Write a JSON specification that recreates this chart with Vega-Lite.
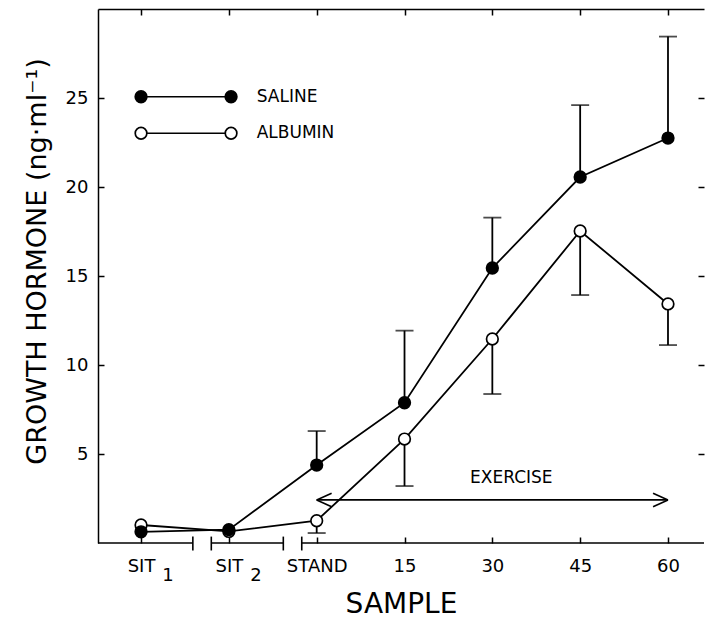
{
  "$schema": "https://vega.github.io/schema/vega-lite/v6.json",
  "width": 606,
  "height": 534,
  "autosize": {"type": "none"},
  "padding": {"left": 98, "top": 9, "right": 2, "bottom": 82},
  "background": "white",
  "config": {
    "view": {"stroke": null},
    "axis": {"grid": false, "labelFont": "DejaVu Sans", "titleFont": "DejaVu Sans", "labelColor": "black", "titleColor": "black", "tickColor": "black", "domainColor": "black", "tickWidth": 1.5, "domainWidth": 1.5, "titleFontWeight": "normal"},
    "text": {"font": "DejaVu Sans", "color": "black"}
  },
  "datasets": {
    "gh": [
      {"sample": "SIT1", "pos": 0, "series": "ALBUMIN", "gh": 1.01},
      {"sample": "SIT2", "pos": 1, "series": "ALBUMIN", "gh": 0.65},
      {"sample": "STAND", "pos": 2, "series": "ALBUMIN", "gh": 1.25, "err": 0.56},
      {"sample": "15", "pos": 3, "series": "ALBUMIN", "gh": 5.84, "err": 3.2},
      {"sample": "30", "pos": 4, "series": "ALBUMIN", "gh": 11.46, "err": 8.37},
      {"sample": "45", "pos": 5, "series": "ALBUMIN", "gh": 17.53, "err": 13.93},
      {"sample": "60", "pos": 6, "series": "ALBUMIN", "gh": 13.43, "err": 11.12},
      {"sample": "SIT1", "pos": 0, "series": "SALINE", "gh": 0.63},
      {"sample": "SIT2", "pos": 1, "series": "SALINE", "gh": 0.75},
      {"sample": "STAND", "pos": 2, "series": "SALINE", "gh": 4.38, "err": 6.29},
      {"sample": "15", "pos": 3, "series": "SALINE", "gh": 7.88, "err": 11.93},
      {"sample": "30", "pos": 4, "series": "SALINE", "gh": 15.45, "err": 18.28},
      {"sample": "45", "pos": 5, "series": "SALINE", "gh": 20.56, "err": 24.6},
      {"sample": "60", "pos": 6, "series": "SALINE", "gh": 22.75, "err": 28.45}
    ],
    "segments": [
      {"part": "axis", "x": -0.49, "y": 0, "x2": 0.59, "y2": 0},
      {"part": "axis", "x": 0.8, "y": 0, "x2": 1.62, "y2": 0},
      {"part": "axis", "x": 1.83, "y": 0, "x2": 6.41, "y2": 0},
      {"part": "break", "x": 0.59, "y": -0.42, "x2": 0.59, "y2": 0.36},
      {"part": "break", "x": 0.8, "y": -0.42, "x2": 0.8, "y2": 0.36},
      {"part": "break", "x": 1.62, "y": -0.42, "x2": 1.62, "y2": 0.36},
      {"part": "break", "x": 1.83, "y": -0.42, "x2": 1.83, "y2": 0.36},
      {"part": "arrow", "x": 2, "y": 2.42, "x2": 6, "y2": 2.42},
      {"part": "arrow", "x": 2, "y": 2.42, "x2": 2.17, "y2": 2.8},
      {"part": "arrow", "x": 2, "y": 2.42, "x2": 2.17, "y2": 2.04},
      {"part": "arrow", "x": 6, "y": 2.42, "x2": 5.83, "y2": 2.8},
      {"part": "arrow", "x": 6, "y": 2.42, "x2": 5.83, "y2": 2.04},
      {"part": "legend", "x": 0, "y": 25.07, "x2": 1.025, "y2": 25.07},
      {"part": "legend", "x": 0, "y": 23.02, "x2": 1.025, "y2": 23.02}
    ],
    "legendpts": [
      {"series": "ALBUMIN", "x": 0, "y": 23.02},
      {"series": "ALBUMIN", "x": 1.025, "y": 23.02},
      {"series": "SALINE", "x": 0, "y": 25.07},
      {"series": "SALINE", "x": 1.025, "y": 25.07}
    ],
    "notes": [
      {"x": 1.317, "y": 25.07, "text": "SALINE"},
      {"x": 1.317, "y": 23.02, "text": "ALBUMIN"},
      {"x": 3.746, "y": 3.65, "text": "EXERCISE"}
    ],
    "subs": [
      {"x": 0, "text": "1"},
      {"x": 1, "text": "2"}
    ]
  },
  "resolve": {"axis": {"x": "independent", "y": "independent"}},
  "layer": [
    {
      "data": {"name": "segments"},
      "mark": {"type": "rule", "color": "black", "strokeWidth": 1.6},
      "encoding": {
        "x": {"field": "x", "type": "quantitative", "scale": {"domain": [-0.49, 6.41], "nice": false, "zero": false},
          "axis": {"orient": "top", "values": [0, 1, 2, 3, 4, 5, 6], "labels": false, "tickSize": -6, "domain": true, "title": null}},
        "x2": {"field": "x2"},
        "y": {"field": "y", "type": "quantitative", "scale": {"domain": [0, 30], "nice": false, "zero": false},
          "axis": {"orient": "right", "values": [5, 10, 15, 20, 25], "labels": false, "tickSize": -6, "domain": false, "title": null}},
        "y2": {"field": "y2"}
      }
    },
    {
      "data": {"name": "gh"},
      "mark": {"type": "line", "color": "black", "strokeWidth": 1.8},
      "encoding": {
        "x": {"field": "pos", "type": "quantitative",
          "axis": {"orient": "bottom", "values": [0, 1, 2, 3, 4, 5, 6],
            "labelExpr": "['SIT','SIT','STAND','15','30','45','60'][datum.value]",
            "domain": false, "tickSize": -6, "labelPadding": 20, "labelFontSize": 18,
            "title": "SAMPLE", "titleFontSize": 28, "titlePadding": 15,
            "encode": {"labels": {"update": {"dx": {"signal": "datum.value < 1.5 ? 5 : 0"}}}}}},
        "y": {"field": "gh", "type": "quantitative",
          "axis": {"orient": "left", "values": [5, 10, 15, 20, 25], "tickSize": -6, "domain": true,
            "labelPadding": 16, "labelFontSize": 18,
            "title": "GROWTH HORMONE (ng·ml⁻¹)", "titleFontSize": 27, "titlePadding": 14, "titleY": 252}},
        "detail": {"field": "series"},
        "order": {"field": "pos"}
      }
    },
    {
      "data": {"name": "gh"},
      "transform": [{"filter": "isValid(datum.err)"}],
      "mark": {"type": "rule", "color": "black", "strokeWidth": 1.8},
      "encoding": {
        "x": {"field": "pos", "type": "quantitative", "axis": null},
        "y": {"field": "gh", "type": "quantitative", "axis": null},
        "y2": {"field": "err"}
      }
    },
    {
      "data": {"name": "gh"},
      "transform": [{"filter": "isValid(datum.err)"}],
      "mark": {"type": "tick", "orient": "horizontal", "color": "black", "size": 18, "thickness": 1.8},
      "encoding": {
        "x": {"field": "pos", "type": "quantitative", "axis": null},
        "y": {"field": "err", "type": "quantitative", "axis": null}
      }
    },
    {
      "data": {"name": "gh"},
      "mark": {"type": "point", "shape": "circle", "filled": true, "stroke": "black", "strokeWidth": 1.7, "size": 135, "opacity": 1},
      "encoding": {
        "x": {"field": "pos", "type": "quantitative", "axis": null},
        "y": {"field": "gh", "type": "quantitative", "axis": null},
        "fill": {"field": "series", "type": "nominal", "scale": {"domain": ["SALINE", "ALBUMIN"], "range": ["black", "white"]}, "legend": null}
      }
    },
    {
      "data": {"name": "legendpts"},
      "mark": {"type": "point", "shape": "circle", "filled": true, "stroke": "black", "strokeWidth": 1.7, "size": 135, "opacity": 1},
      "encoding": {
        "x": {"field": "x", "type": "quantitative", "axis": null},
        "y": {"field": "y", "type": "quantitative", "axis": null},
        "fill": {"field": "series", "type": "nominal", "legend": null}
      }
    },
    {
      "data": {"name": "notes"},
      "mark": {"type": "text", "align": "left", "baseline": "middle", "fontSize": 17},
      "encoding": {
        "x": {"field": "x", "type": "quantitative", "axis": null},
        "y": {"field": "y", "type": "quantitative", "axis": null},
        "text": {"field": "text"}
      }
    },
    {
      "data": {"name": "subs"},
      "mark": {"type": "text", "align": "center", "baseline": "alphabetic", "fontSize": 18, "dx": 27, "dy": 38},
      "encoding": {
        "x": {"field": "x", "type": "quantitative", "axis": null},
        "y": {"datum": 0, "type": "quantitative", "axis": null},
        "text": {"field": "text"}
      }
    }
  ]
}
